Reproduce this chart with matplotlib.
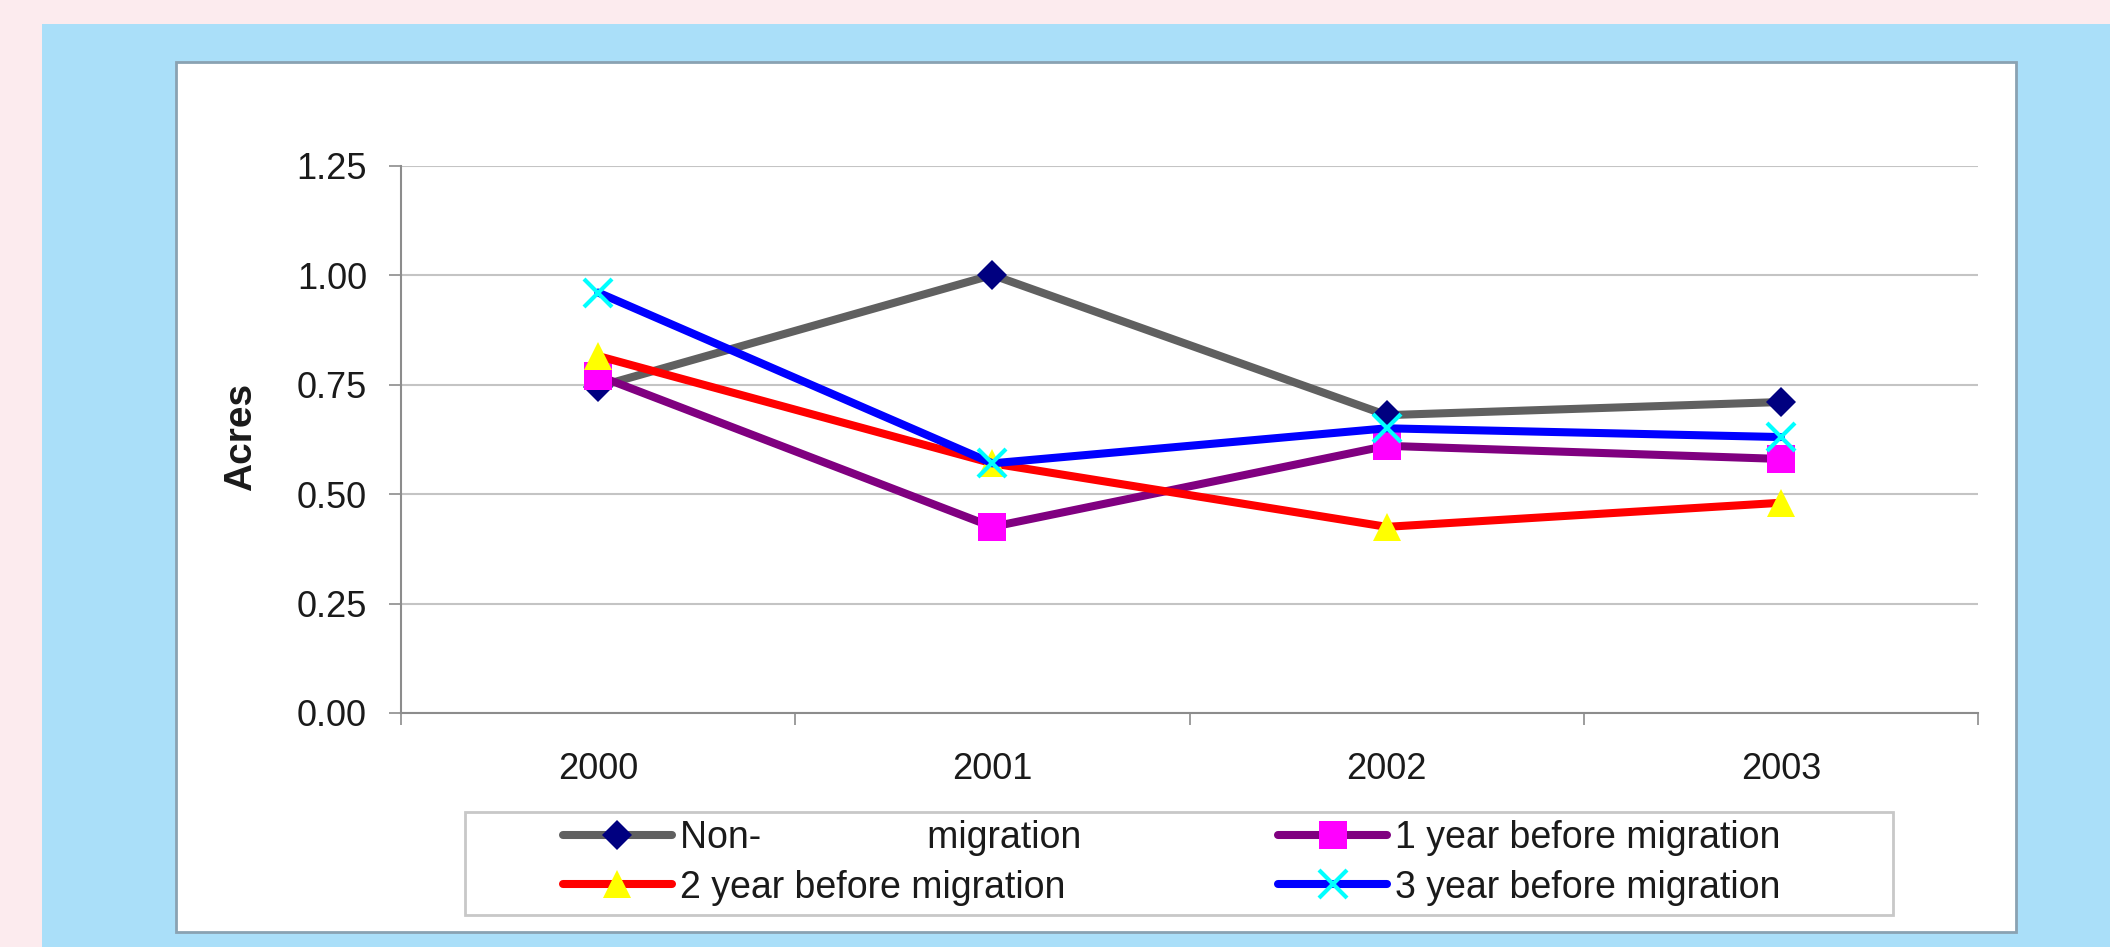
import matplotlib
matplotlib.use("Agg")
import matplotlib.pyplot as plt
from matplotlib.patches import Rectangle
from matplotlib.ticker import FixedLocator

plt.rcParams['font.family'] = ['Liberation Sans', 'DejaVu Sans']

# Data
years = ["2000", "2001", "2002", "2003"]
non_migration = [0.745, 1.00, 0.68, 0.71]
one_year_before = [0.77, 0.425, 0.61, 0.58]
two_year_before = [0.815, 0.57, 0.425, 0.48]
three_year_before = [0.96, 0.57, 0.65, 0.63]
series_labels = ["Non-                migration", "1 year before migration",
                 "2 year before migration", "3 year before migration"]
y_ticks = [0.00, 0.25, 0.50, 0.75, 1.00, 1.25]

W, H = 2110, 947
fig = plt.figure(figsize=(W / 100, H / 100), dpi=100)
fig.patch.set_facecolor('#FCEBEE')

def fx(px):
    return px / W

def fy(py):
    return 1 - py / H

# Blue backdrop panel and white chart panel
fig.add_artist(Rectangle((fx(42), 0), 1 - fx(42), fy(24), transform=fig.transFigure,
                         facecolor='#AADFF9', edgecolor='none', zorder=0))
fig.add_artist(Rectangle((fx(176), fy(932)), fx(2016) - fx(176), fy(62) - fy(932),
                         transform=fig.transFigure, facecolor='white',
                         edgecolor='#8AA2B2', linewidth=2.0, zorder=0.5))

ax = fig.add_axes([fx(401), fy(713), fx(1978) - fx(401), fy(165.5) - fy(713)])
ax.set_facecolor('none')
ax.set_zorder(2)

x = list(range(len(years)))
styles = [
    (non_migration, '#606060', 'D', '#000080', 15.3, 0),
    (one_year_before, '#800080', 's', '#FF00FF', 20, 0),
    (two_year_before, '#FF0000', '^', '#FFFF00', 20.5, 0),
    (three_year_before, '#0000FF', 'x', '#00FFFF', 20, 3),
]
handles = []
for (vals, lc, mk, mc, ms, mew), lab in zip(styles, series_labels):
    if mk == 'x':
        h, = ax.plot(x, vals, color=lc, lw=5.8, marker=mk, markersize=ms,
                     markeredgecolor=mc, markeredgewidth=mew, label=lab,
                     solid_capstyle='round', clip_on=False)
    else:
        h, = ax.plot(x, vals, color=lc, lw=5.8, marker=mk, markersize=ms,
                     markerfacecolor=mc, markeredgecolor=mc, markeredgewidth=0,
                     label=lab, solid_capstyle='round', clip_on=False)
    handles.append(h)

ax.set_xlim(-0.5, len(years) - 0.5)
ax.set_ylim(0, 1.25)
ax.set_yticks(y_ticks)
ax.set_yticklabels([f"{v:.2f}" for v in y_ticks])
ax.set_xticks(x)
ax.set_xticklabels(years)
ax.xaxis.set_minor_locator(FixedLocator([i - 0.5 for i in range(len(years) + 1)]))

ax.grid(axis='y', color='#C4C4C4', linewidth=1.5, zorder=0)
ax.set_axisbelow(True)
for s in ['top', 'right']:
    ax.spines[s].set_visible(False)
for s in ['left', 'bottom']:
    ax.spines[s].set_color('#8C8C8C')
    ax.spines[s].set_linewidth(1.5)

ax.tick_params(axis='y', which='major', direction='out', length=8.5, width=1.2,
               color='#8C8C8C', pad=16, labelsize=26, labelcolor='#1A1A1A')
ax.tick_params(axis='x', which='major', length=0, pad=28, labelsize=26,
               labelcolor='#1A1A1A')
ax.tick_params(axis='x', which='minor', direction='out', length=8.5, width=1.2,
               color='#8C8C8C')

fig.text(fx(241), fy(437), 'Acres', rotation=90, ha='center', va='center',
         fontsize=28, fontweight='bold', color='#1A1A1A')

# Legend frame and entries
fig.add_artist(Rectangle((fx(465), fy(915)), fx(1893) - fx(465), fy(812) - fy(915),
                         transform=fig.transFigure, facecolor='white',
                         edgecolor='#C8C8C8', linewidth=2.0, zorder=1))
order = [0, 2, 1, 3]
leg = fig.legend([handles[i] for i in order], [series_labels[i] for i in order],
                 loc='upper left', bbox_to_anchor=(fx(563), fy(820)),
                 bbox_transform=fig.transFigure, ncol=2, frameon=False,
                 fontsize=27, handlelength=2.9, handletextpad=0.22,
                 columnspacing=5.25, labelspacing=0.36, borderpad=0,
                 borderaxespad=0, markerscale=1.0)
leg.set_zorder(3)
for t in leg.get_texts():
    t.set_color('#1A1A1A')

fig.savefig('out.png', dpi=100, facecolor=fig.get_facecolor())
